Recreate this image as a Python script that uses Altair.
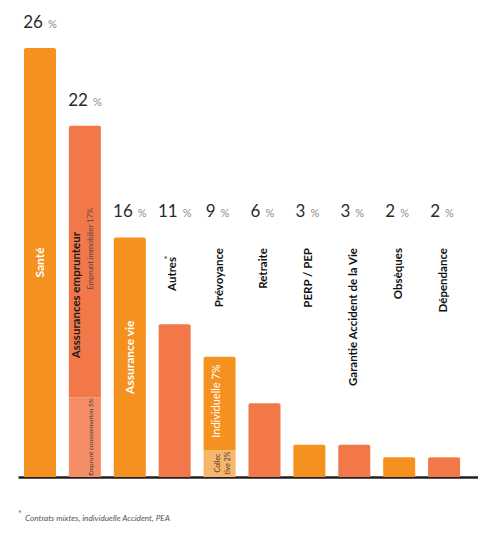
import altair as alt
import pandas as pd

# données
categories = ["Santé", "Asssurances emprunteur", "Assurance vie", "Autres", "Prévoyance",
              "Retraite", "PERP / PEP", "Garantie Accident de la Vie", "Obsèques", "Dépendance"]
values = [26, 22, 16, 11, 9, 6, 3, 3, 2, 2]

# barres coupées en deux : partie basse + partie haute
split_cats = ["Asssurances emprunteur", "Prévoyance"]
split_bottom = [5, 2]
split_top = [17, 7]

footnote = "Contrats mixtes, individuelle Accident, PEA"

EXP = 1.2  # l'infographie n'est pas linéaire, une échelle pow colle mieux

rows = []
for i, (cat, v) in enumerate(zip(categories, values)):
    tone = "orange" if i % 2 == 0 else "corail"
    if cat in split_cats:
        j = split_cats.index(cat)
        # frontière placée pour garder la proportion bas/total en hauteur
        b = v * (split_bottom[j] / v) ** (1 / EXP)
        rows.append({"cat": cat, "lo": 0, "hi": b, "tone": tone + " clair", "part": "bas"})
        rows.append({"cat": cat, "lo": b, "hi": v, "tone": tone, "part": "haut"})
    else:
        rows.append({"cat": cat, "lo": 0, "hi": v, "tone": tone, "part": "haut"})
segs = pd.DataFrame(rows)

bars = pd.DataFrame({"cat": categories, "value": values})
bars["num"] = bars["value"].astype(str)
bars["lab_y"] = bars["value"].clip(lower=16)
bars["mid"] = bars["value"] * 0.5 ** (1 / EXP)
bars["idx"] = range(len(categories))

FONT = "Lato"

x = alt.X("cat:N", sort=categories, title=None,
          scale=alt.Scale(paddingInner=0.287, paddingOuter=0.266, align=0.25),
          axis=alt.Axis(labels=False, ticks=False, grid=False,
                        domainColor="#231f20", domainWidth=2.5))
yscale = alt.Scale(type="pow", exponent=EXP, domain=[0, 28], nice=False)
color = alt.Color("tone:N", legend=None,
                  scale=alt.Scale(domain=["orange", "corail", "orange clair", "corail clair"],
                                  range=["#F5921F", "#F2784A", "#F6B66C", "#F48D68"]))

base_seg = alt.Chart(segs).encode(
    x=x,
    y=alt.Y("lo:Q", scale=yscale, axis=None),
    y2="hi:Q",
    color=color,
)
top_bars = base_seg.transform_filter("datum.part == 'haut'").mark_bar(
    cornerRadiusTopLeft=2, cornerRadiusTopRight=2)
bottom_bars = base_seg.transform_filter("datum.part == 'bas'").mark_bar()

base_lab = alt.Chart(bars).encode(x=x, y=alt.Y("lab_y:Q", scale=yscale, axis=None))

num_big = base_lab.transform_filter("datum.value >= 10").mark_text(
    align="right", baseline="alphabetic", dx=3, dy=-20, font=FONT, fontSize=17, color="#2b2b2b"
).encode(text="num:N")
num_small = base_lab.transform_filter("datum.value < 10").mark_text(
    align="right", baseline="alphabetic", dx=-4, dy=-20, font=FONT, fontSize=17, color="#2b2b2b"
).encode(text="num:N")
pct_big = base_lab.transform_filter("datum.value >= 10").mark_text(
    align="left", baseline="alphabetic", dx=8, dy=-20, font=FONT, fontSize=11, color="#8c8c8c"
).encode(text=alt.value("%"))
pct_small = base_lab.transform_filter("datum.value < 10").mark_text(
    align="left", baseline="alphabetic", dx=1, dy=-20, font=FONT, fontSize=11, color="#8c8c8c"
).encode(text=alt.value("%"))

# noms au-dessus des petites barres
cat_style = dict(angle=270, align="right", baseline="middle", font=FONT, fontWeight="bold",
                 fontSize=11.5, color="#111111")
cat_labels = alt.Chart(bars).transform_filter(
    "datum.idx >= 3 && datum.cat != 'Autres'"
).mark_text(**cat_style).encode(x=x, y=alt.value(240), text="cat:N")
autres = alt.Chart(bars).transform_filter("datum.cat == 'Autres'").mark_text(
    dy=-1.5, **cat_style
).encode(x=x, y=alt.value(249), text="cat:N")
star = alt.Chart(bars).transform_filter("datum.cat == 'Autres'").mark_text(
    align="center", baseline="middle", dx=-9, font=FONT, fontSize=9, color="#111111"
).encode(x=x, y=alt.value(252), text=alt.value("*"))

# noms dans les grandes barres
inside_white = alt.Chart(bars).transform_filter(
    "datum.cat == 'Santé' || datum.cat == 'Assurance vie'"
).mark_text(
    angle=270, align="center", baseline="middle", font=FONT, fontWeight="bold",
    fontSize=12, color="white"
).encode(x=x, y=alt.Y("mid:Q", scale=yscale, axis=None), text="cat:N")

emp = alt.Chart(bars).transform_filter("datum.idx == 1")
emp_title = emp.mark_text(
    angle=270, align="right", baseline="middle", dy=-7.5, font=FONT, fontWeight="bold",
    fontSize=11.5, color="#1a1a1a"
).encode(x=x, y=alt.value(224), text="cat:N")
emp_top = emp.mark_text(
    angle=270, align="right", baseline="middle", dy=6, font=FONT, fontSize=7.5, color="#4a4a4a"
).encode(x=x, y=alt.value(200), text=alt.value("Emprunt immobilier 17%"))

low = segs[segs["part"] == "bas"]
emp_low = alt.Chart(low).transform_filter("datum.cat == 'Asssurances emprunteur'").mark_text(
    angle=270, align="right", baseline="middle", dx=-1, dy=6.5, font=FONT, fontSize=6.4,
    color="#3a3a3a"
).encode(x=x, y=alt.Y("hi:Q", scale=yscale, axis=None),
         text=alt.value("Emprunt consommation 5%"))

prev = alt.Chart(bars).transform_filter("datum.cat == 'Prévoyance'")
prev_top = prev.mark_text(
    angle=270, align="center", baseline="middle", dy=-2.5, font=FONT, fontSize=11,
    color="white"
).encode(x=x, y=alt.value(393), text=alt.value("Individuelle 7%"))
prev_low = prev.mark_text(
    angle=270, align="center", baseline="middle", dy=-2, font=FONT, fontSize=7,
    lineHeight=10, color="#4a3a2a"
).encode(x=x, y=alt.value(455), text=alt.value(["Collec", "tive 2%"]))

note = pd.DataFrame({"t": [footnote]})
note_star = alt.Chart(note).mark_text(
    align="left", baseline="alphabetic", font=FONT, fontSize=8.5, color="#666666"
).encode(x=alt.value(0), y=alt.value(509), text=alt.value("*"))
note_text = alt.Chart(note).mark_text(
    align="left", baseline="alphabetic", font=FONT, fontSize=8.2, fontStyle="italic",
    color="#555555"
).encode(x=alt.value(7), y=alt.value(513), text="t:N")

chart = alt.layer(
    bottom_bars, top_bars,
    num_big, num_small, pct_big, pct_small,
    cat_labels, autres, star, inside_white,
    emp_title, emp_top, emp_low, prev_top, prev_low,
    note_star, note_text,
).properties(
    width=460, height=469,
    padding={"left": 10, "top": 0, "right": 0, "bottom": 0},
).configure_view(stroke=None)

chart.save("out.html", embed_options={"renderer": "svg", "actions": False})
